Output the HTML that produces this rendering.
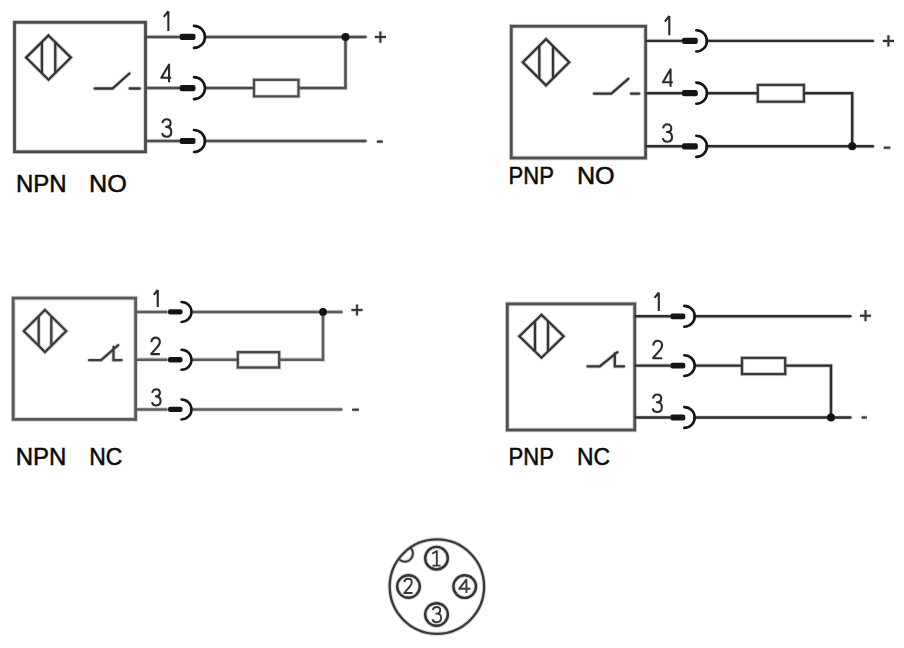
<!DOCTYPE html>
<html><head><meta charset="utf-8"><style>
html,body{margin:0;padding:0;background:#fff;}
body{width:904px;height:648px;overflow:hidden;}
svg{display:block;font-family:"Liberation Sans",sans-serif;}
</style></head><body>
<svg width="904" height="648" viewBox="0 0 904 648">
<rect width="904" height="648" fill="#fff"/>
<g>
<rect x="14.5" y="22.3" width="131.0" height="129.5" fill="none" stroke="#d4d4d4" stroke-width="4.60"/>
<path d="M48.5 35.45 L70.9 57.6 L48.5 79.75 L26.1 57.6 Z" fill="none" stroke="#d4d4d4" stroke-width="4.10"/>
<line x1="41.9" y1="41.98" x2="41.9" y2="73.22" stroke="#d4d4d4" stroke-width="4.10"/>
<line x1="55.25" y1="42.12" x2="55.25" y2="73.08" stroke="#d4d4d4" stroke-width="4.10"/>
<path d="M94.75 88.5 L112.5 88.5 L129.4 73.5 M129.75 88.5 L139.75 88.5" fill="none" stroke="#d4d4d4" stroke-width="4.10" stroke-linecap="round"/>
<line x1="145.5" y1="36.9" x2="180" y2="36.9" stroke="#d4d4d4" stroke-width="4.30"/>
<line x1="145.5" y1="88.1" x2="180" y2="88.1" stroke="#d4d4d4" stroke-width="4.30"/>
<line x1="145.5" y1="141.0" x2="180" y2="141.0" stroke="#d4d4d4" stroke-width="4.30"/>
<line x1="205" y1="36.9" x2="365.40" y2="36.9" stroke="#d4d4d4" stroke-width="4.30" stroke-linecap="round"/>
<line x1="205" y1="141.0" x2="365.40" y2="141.0" stroke="#d4d4d4" stroke-width="4.30" stroke-linecap="round"/>
<line x1="205" y1="88.1" x2="254" y2="88.1" stroke="#d4d4d4" stroke-width="4.30"/>
<rect x="254" y="79.8" width="44.50" height="16.60" fill="none" stroke="#d4d4d4" stroke-width="4.00"/>
<path d="M298.5 88.1 L345.5 88.1 L345.5 36.9" fill="none" stroke="#d4d4d4" stroke-width="4.30"/>
<circle cx="345.5" cy="36.9" r="4.0" fill="none"/>
<path d="M374.79999999999995 37.1 L386.0 37.1 M380.4 31.5 L380.4 42.7" fill="none" stroke="#d4d4d4" stroke-width="3.80"/>
<line x1="376.8" y1="141.6" x2="382.8" y2="141.6" stroke="#d4d4d4" stroke-width="3.90"/>
<rect x="511.25" y="26.25" width="134.35000000000002" height="131.75" fill="none" stroke="#d4d4d4" stroke-width="4.60"/>
<path d="M546 39.15 L569.2 62.25 L546 85.35 L522.8 62.25 Z" fill="none" stroke="#d4d4d4" stroke-width="4.10"/>
<line x1="539.3" y1="45.82" x2="539.3" y2="78.68" stroke="#d4d4d4" stroke-width="4.10"/>
<line x1="553" y1="46.12" x2="553" y2="78.38" stroke="#d4d4d4" stroke-width="4.10"/>
<path d="M594 93.6 L611.3 93.6 L628.3 78.8 M631 93.6 L639.2 93.6" fill="none" stroke="#d4d4d4" stroke-width="4.10" stroke-linecap="round"/>
<line x1="645.6" y1="40.9" x2="682.3" y2="40.9" stroke="#d4d4d4" stroke-width="4.20"/>
<line x1="645.6" y1="93.2" x2="682.3" y2="93.2" stroke="#d4d4d4" stroke-width="4.20"/>
<line x1="645.6" y1="146.3" x2="682.3" y2="146.3" stroke="#d4d4d4" stroke-width="4.20"/>
<line x1="706.9" y1="40.9" x2="872.80" y2="40.9" stroke="#d4d4d4" stroke-width="4.20" stroke-linecap="round"/>
<line x1="706.9" y1="146.3" x2="872.80" y2="146.3" stroke="#d4d4d4" stroke-width="4.20" stroke-linecap="round"/>
<line x1="706.9" y1="93.2" x2="757.8" y2="93.2" stroke="#d4d4d4" stroke-width="4.20"/>
<rect x="757.8" y="84.9" width="46.10" height="16.80" fill="none" stroke="#d4d4d4" stroke-width="4.10"/>
<path d="M803.9 93.2 L852.2 93.2 L852.2 146.3" fill="none" stroke="#d4d4d4" stroke-width="4.20"/>
<circle cx="852.2" cy="146.3" r="4.0" fill="none"/>
<path d="M882.8 40.9 L894.0 40.9 M888.4 35.3 L888.4 46.5" fill="none" stroke="#d4d4d4" stroke-width="3.80"/>
<line x1="883.7" y1="147.7" x2="890.3" y2="147.7" stroke="#d4d4d4" stroke-width="3.90"/>
<rect x="13.2" y="298.1" width="122.39999999999999" height="121.29999999999995" fill="none" stroke="#d4d4d4" stroke-width="4.60"/>
<path d="M45 309.95 L66.2 331 L45 352.05 L23.8 331 Z" fill="none" stroke="#d4d4d4" stroke-width="4.10"/>
<line x1="38.7" y1="316.21" x2="38.7" y2="345.79" stroke="#d4d4d4" stroke-width="4.10"/>
<line x1="51.3" y1="316.21" x2="51.3" y2="345.79" stroke="#d4d4d4" stroke-width="4.10"/>
<path d="M89.1 360.2 H101.1 L118.2 345.2 M113.5 347 V360.2 H121.5" fill="none" stroke="#d4d4d4" stroke-width="4.10" stroke-linecap="round"/>
<line x1="135.6" y1="311.9" x2="167.5" y2="311.9" stroke="#d4d4d4" stroke-width="4.30"/>
<line x1="135.6" y1="359.7" x2="167.5" y2="359.7" stroke="#d4d4d4" stroke-width="4.30"/>
<line x1="135.6" y1="409.4" x2="167.5" y2="409.4" stroke="#d4d4d4" stroke-width="4.30"/>
<line x1="191.5" y1="311.9" x2="341.30" y2="311.9" stroke="#d4d4d4" stroke-width="4.30" stroke-linecap="round"/>
<line x1="191.5" y1="409.4" x2="341.30" y2="409.4" stroke="#d4d4d4" stroke-width="4.30" stroke-linecap="round"/>
<line x1="191.5" y1="359.7" x2="237.8" y2="359.7" stroke="#d4d4d4" stroke-width="4.30"/>
<rect x="237.8" y="352.2" width="41.40" height="15.30" fill="none" stroke="#d4d4d4" stroke-width="4.10"/>
<path d="M279.2 359.7 L323 359.7 L323 311.9" fill="none" stroke="#d4d4d4" stroke-width="4.30"/>
<circle cx="323" cy="311.9" r="3.9" fill="none"/>
<path d="M351.4 310 L362.6 310 M357 304.4 L357 315.6" fill="none" stroke="#d4d4d4" stroke-width="3.80"/>
<line x1="352.1" y1="409.7" x2="358.9" y2="409.7" stroke="#d4d4d4" stroke-width="3.90"/>
<rect x="507.3" y="303.9" width="127.44999999999999" height="126.10000000000002" fill="none" stroke="#d4d4d4" stroke-width="4.60"/>
<path d="M541.5 314.75 L563.6 336.25 L541.5 357.75 L519.4 336.25 Z" fill="none" stroke="#d4d4d4" stroke-width="4.10"/>
<line x1="535" y1="321.07" x2="535" y2="351.43" stroke="#d4d4d4" stroke-width="4.10"/>
<line x1="548" y1="321.07" x2="548" y2="351.43" stroke="#d4d4d4" stroke-width="4.10"/>
<path d="M587.6 366.4 H599.8 L617.4 352.2 M614.8 353.5 V366.4 H624" fill="none" stroke="#d4d4d4" stroke-width="4.10" stroke-linecap="round"/>
<line x1="634.75" y1="316.3" x2="670.3" y2="316.3" stroke="#d4d4d4" stroke-width="4.20"/>
<line x1="634.75" y1="365.6" x2="670.3" y2="365.6" stroke="#d4d4d4" stroke-width="4.20"/>
<line x1="634.75" y1="417.5" x2="670.3" y2="417.5" stroke="#d4d4d4" stroke-width="4.20"/>
<line x1="694.6999999999999" y1="316.3" x2="850.30" y2="316.3" stroke="#d4d4d4" stroke-width="4.20" stroke-linecap="round"/>
<line x1="694.6999999999999" y1="417.5" x2="850.30" y2="417.5" stroke="#d4d4d4" stroke-width="4.20" stroke-linecap="round"/>
<line x1="694.6999999999999" y1="365.6" x2="742" y2="365.6" stroke="#d4d4d4" stroke-width="4.20"/>
<rect x="742" y="357.9" width="43.20" height="16.20" fill="none" stroke="#d4d4d4" stroke-width="4.10"/>
<path d="M785.2 365.6 L831 365.6 L831 417.5" fill="none" stroke="#d4d4d4" stroke-width="4.20"/>
<circle cx="831" cy="417.5" r="4.0" fill="none"/>
<path d="M859.9 315.7 L871.1 315.7 M865.5 310.09999999999997 L865.5 321.3" fill="none" stroke="#d4d4d4" stroke-width="3.80"/>
<line x1="861.5" y1="417.5" x2="866.9000000000001" y2="417.5" stroke="#d4d4d4" stroke-width="3.90"/>
<circle cx="436.9" cy="586.6" r="47.2" fill="none" stroke="#d4d4d4" stroke-width="4.10"/>
<circle cx="436.5" cy="558.2" r="11.3" fill="none" stroke="#d4d4d4" stroke-width="4.20"/>
<circle cx="408.5" cy="586.5" r="11.3" fill="none" stroke="#d4d4d4" stroke-width="4.20"/>
<circle cx="464.7" cy="586.6" r="11.3" fill="none" stroke="#d4d4d4" stroke-width="4.20"/>
<circle cx="436.5" cy="614.5" r="11.3" fill="none" stroke="#d4d4d4" stroke-width="4.20"/>
<path d="M399.2 559.4 A7.0 7.0 0 1 0 410.4 547.6" fill="none" stroke="#d4d4d4" stroke-width="3.80"/>
</g>
<g>
<rect x="14.5" y="22.3" width="131.0" height="129.5" fill="none" stroke="#4a4a4a" stroke-width="2.8"/>
<path d="M48.5 35.45 L70.9 57.6 L48.5 79.75 L26.1 57.6 Z" fill="none" stroke="#333333" stroke-width="2.3"/>
<line x1="41.9" y1="41.98" x2="41.9" y2="73.22" stroke="#333333" stroke-width="2.3"/>
<line x1="55.25" y1="42.12" x2="55.25" y2="73.08" stroke="#333333" stroke-width="2.3"/>
<path d="M94.75 88.5 L112.5 88.5 L129.4 73.5 M129.75 88.5 L139.75 88.5" fill="none" stroke="#333333" stroke-width="2.3" stroke-linecap="round"/>
<line x1="145.5" y1="36.9" x2="180" y2="36.9" stroke="#4c4c4c" stroke-width="2.5"/>
<line x1="145.5" y1="88.1" x2="180" y2="88.1" stroke="#4c4c4c" stroke-width="2.5"/>
<line x1="145.5" y1="141.0" x2="180" y2="141.0" stroke="#4c4c4c" stroke-width="2.5"/>
<line x1="205" y1="36.9" x2="365.40" y2="36.9" stroke="#4c4c4c" stroke-width="2.5" stroke-linecap="round"/>
<line x1="205" y1="141.0" x2="365.40" y2="141.0" stroke="#4c4c4c" stroke-width="2.5" stroke-linecap="round"/>
<line x1="205" y1="88.1" x2="254" y2="88.1" stroke="#4c4c4c" stroke-width="2.5"/>
<rect x="254" y="79.8" width="44.50" height="16.60" fill="none" stroke="#4a4a4a" stroke-width="2.2"/>
<path d="M298.5 88.1 L345.5 88.1 L345.5 36.9" fill="none" stroke="#4c4c4c" stroke-width="2.5"/>
<circle cx="345.5" cy="36.9" r="4.0" fill="#141414"/>
<path d="M374.79999999999995 37.1 L386.0 37.1 M380.4 31.5 L380.4 42.7" fill="none" stroke="#333333" stroke-width="2.0"/>
<line x1="376.8" y1="141.6" x2="382.8" y2="141.6" stroke="#333333" stroke-width="2.1"/>
<rect x="511.25" y="26.25" width="134.35000000000002" height="131.75" fill="none" stroke="#505050" stroke-width="2.8"/>
<path d="M546 39.15 L569.2 62.25 L546 85.35 L522.8 62.25 Z" fill="none" stroke="#333333" stroke-width="2.3"/>
<line x1="539.3" y1="45.82" x2="539.3" y2="78.68" stroke="#333333" stroke-width="2.3"/>
<line x1="553" y1="46.12" x2="553" y2="78.38" stroke="#333333" stroke-width="2.3"/>
<path d="M594 93.6 L611.3 93.6 L628.3 78.8 M631 93.6 L639.2 93.6" fill="none" stroke="#333333" stroke-width="2.3" stroke-linecap="round"/>
<line x1="645.6" y1="40.9" x2="682.3" y2="40.9" stroke="#2c2c2c" stroke-width="2.4"/>
<line x1="645.6" y1="93.2" x2="682.3" y2="93.2" stroke="#2c2c2c" stroke-width="2.4"/>
<line x1="645.6" y1="146.3" x2="682.3" y2="146.3" stroke="#2c2c2c" stroke-width="2.4"/>
<line x1="706.9" y1="40.9" x2="872.80" y2="40.9" stroke="#2c2c2c" stroke-width="2.4" stroke-linecap="round"/>
<line x1="706.9" y1="146.3" x2="872.80" y2="146.3" stroke="#2c2c2c" stroke-width="2.4" stroke-linecap="round"/>
<line x1="706.9" y1="93.2" x2="757.8" y2="93.2" stroke="#2c2c2c" stroke-width="2.4"/>
<rect x="757.8" y="84.9" width="46.10" height="16.80" fill="none" stroke="#3a3a3a" stroke-width="2.3"/>
<path d="M803.9 93.2 L852.2 93.2 L852.2 146.3" fill="none" stroke="#2c2c2c" stroke-width="2.4"/>
<circle cx="852.2" cy="146.3" r="4.0" fill="#141414"/>
<path d="M882.8 40.9 L894.0 40.9 M888.4 35.3 L888.4 46.5" fill="none" stroke="#333333" stroke-width="2.0"/>
<line x1="883.7" y1="147.7" x2="890.3" y2="147.7" stroke="#333333" stroke-width="2.1"/>
<rect x="13.2" y="298.1" width="122.39999999999999" height="121.29999999999995" fill="none" stroke="#5a5a5a" stroke-width="2.8"/>
<path d="M45 309.95 L66.2 331 L45 352.05 L23.8 331 Z" fill="none" stroke="#3c3c3c" stroke-width="2.3"/>
<line x1="38.7" y1="316.21" x2="38.7" y2="345.79" stroke="#3c3c3c" stroke-width="2.3"/>
<line x1="51.3" y1="316.21" x2="51.3" y2="345.79" stroke="#3c3c3c" stroke-width="2.3"/>
<path d="M89.1 360.2 H101.1 L118.2 345.2 M113.5 347 V360.2 H121.5" fill="none" stroke="#3c3c3c" stroke-width="2.3" stroke-linecap="round"/>
<line x1="135.6" y1="311.9" x2="167.5" y2="311.9" stroke="#5c5c5c" stroke-width="2.5"/>
<line x1="135.6" y1="359.7" x2="167.5" y2="359.7" stroke="#5c5c5c" stroke-width="2.5"/>
<line x1="135.6" y1="409.4" x2="167.5" y2="409.4" stroke="#5c5c5c" stroke-width="2.5"/>
<line x1="191.5" y1="311.9" x2="341.30" y2="311.9" stroke="#5c5c5c" stroke-width="2.5" stroke-linecap="round"/>
<line x1="191.5" y1="409.4" x2="341.30" y2="409.4" stroke="#5c5c5c" stroke-width="2.5" stroke-linecap="round"/>
<line x1="191.5" y1="359.7" x2="237.8" y2="359.7" stroke="#5c5c5c" stroke-width="2.5"/>
<rect x="237.8" y="352.2" width="41.40" height="15.30" fill="none" stroke="#484848" stroke-width="2.3"/>
<path d="M279.2 359.7 L323 359.7 L323 311.9" fill="none" stroke="#5c5c5c" stroke-width="2.5"/>
<circle cx="323" cy="311.9" r="3.9" fill="#141414"/>
<path d="M351.4 310 L362.6 310 M357 304.4 L357 315.6" fill="none" stroke="#3c3c3c" stroke-width="2.0"/>
<line x1="352.1" y1="409.7" x2="358.9" y2="409.7" stroke="#3c3c3c" stroke-width="2.1"/>
<rect x="507.3" y="303.9" width="127.44999999999999" height="126.10000000000002" fill="none" stroke="#505050" stroke-width="2.8"/>
<path d="M541.5 314.75 L563.6 336.25 L541.5 357.75 L519.4 336.25 Z" fill="none" stroke="#333333" stroke-width="2.3"/>
<line x1="535" y1="321.07" x2="535" y2="351.43" stroke="#333333" stroke-width="2.3"/>
<line x1="548" y1="321.07" x2="548" y2="351.43" stroke="#333333" stroke-width="2.3"/>
<path d="M587.6 366.4 H599.8 L617.4 352.2 M614.8 353.5 V366.4 H624" fill="none" stroke="#333333" stroke-width="2.3" stroke-linecap="round"/>
<line x1="634.75" y1="316.3" x2="670.3" y2="316.3" stroke="#2c2c2c" stroke-width="2.4"/>
<line x1="634.75" y1="365.6" x2="670.3" y2="365.6" stroke="#2c2c2c" stroke-width="2.4"/>
<line x1="634.75" y1="417.5" x2="670.3" y2="417.5" stroke="#2c2c2c" stroke-width="2.4"/>
<line x1="694.6999999999999" y1="316.3" x2="850.30" y2="316.3" stroke="#2c2c2c" stroke-width="2.4" stroke-linecap="round"/>
<line x1="694.6999999999999" y1="417.5" x2="850.30" y2="417.5" stroke="#2c2c2c" stroke-width="2.4" stroke-linecap="round"/>
<line x1="694.6999999999999" y1="365.6" x2="742" y2="365.6" stroke="#2c2c2c" stroke-width="2.4"/>
<rect x="742" y="357.9" width="43.20" height="16.20" fill="none" stroke="#3a3a3a" stroke-width="2.3"/>
<path d="M785.2 365.6 L831 365.6 L831 417.5" fill="none" stroke="#2c2c2c" stroke-width="2.4"/>
<circle cx="831" cy="417.5" r="4.0" fill="#141414"/>
<path d="M859.9 315.7 L871.1 315.7 M865.5 310.09999999999997 L865.5 321.3" fill="none" stroke="#333333" stroke-width="2.0"/>
<line x1="861.5" y1="417.5" x2="866.9000000000001" y2="417.5" stroke="#333333" stroke-width="2.1"/>
<circle cx="436.9" cy="586.6" r="47.2" fill="none" stroke="#3a3a3a" stroke-width="2.3"/>
<circle cx="436.5" cy="558.2" r="11.3" fill="none" stroke="#333333" stroke-width="2.4"/>
<circle cx="408.5" cy="586.5" r="11.3" fill="none" stroke="#333333" stroke-width="2.4"/>
<circle cx="464.7" cy="586.6" r="11.3" fill="none" stroke="#333333" stroke-width="2.4"/>
<circle cx="436.5" cy="614.5" r="11.3" fill="none" stroke="#333333" stroke-width="2.4"/>
<path d="M399.2 559.4 A7.0 7.0 0 1 0 410.4 547.6" fill="none" stroke="#3a3a3a" stroke-width="2.0"/>
</g>
<g>
<rect x="179.70" y="33.80" width="15.8" height="6.2" rx="2" fill="#141414"/>
<path d="M194 25.90 A11 11 0 0 1 194 47.90" fill="none" stroke="#141414" stroke-width="2.6" stroke-linecap="round"/>
<rect x="179.70" y="85.00" width="15.8" height="6.2" rx="2" fill="#141414"/>
<path d="M194 77.10 A11 11 0 0 1 194 99.10" fill="none" stroke="#141414" stroke-width="2.6" stroke-linecap="round"/>
<rect x="179.70" y="137.90" width="15.8" height="6.2" rx="2" fill="#141414"/>
<path d="M194 130.00 A11 11 0 0 1 194 152.00" fill="none" stroke="#141414" stroke-width="2.6" stroke-linecap="round"/>
<path transform="translate(162.8 11.2) scale(1.03)" d="M5.4 0 V19.2 M5.4 0 L1 5.6" fill="none" stroke="#2a2a2a" stroke-width="2.039" stroke-linejoin="round"/>
<path transform="translate(161.3 64.6) scale(0.98)" d="M7.9 18 V0 L0 13.4 H10.2" fill="none" stroke="#2a2a2a" stroke-width="2.143" stroke-linejoin="round"/>
<path transform="translate(162.2 119.2) scale(1.0)" d="M0.2 4 C0.6 1.4 2.4 0 4.5 0 C6.9 0 8.4 1.6 8.4 3.9 C8.4 6.1 6.8 7.7 4 7.7 C7.1 7.7 9.1 9.6 9.1 12.8 C9.1 15.8 7.2 17.5 4.5 17.5 C2.1 17.5 0.3 16 0 13.8" fill="none" stroke="#2a2a2a" stroke-width="2.100" stroke-linejoin="round"/>
<text transform="translate(16.0 191.7) scale(1.0 1)" font-size="24" fill="#0a0a0a" stroke="#0a0a0a" stroke-width="0.5">NPN</text>
<text transform="translate(89.1 191.7) scale(1.05 1)" font-size="24" fill="#0a0a0a" stroke="#0a0a0a" stroke-width="0.5">NO</text>
<rect x="682.00" y="37.80" width="15.8" height="6.2" rx="2" fill="#141414"/>
<path d="M696.3 30.30 A10.6 10.6 0 0 1 696.3 51.50" fill="none" stroke="#141414" stroke-width="2.6" stroke-linecap="round"/>
<rect x="682.00" y="90.10" width="15.8" height="6.2" rx="2" fill="#141414"/>
<path d="M696.3 82.60 A10.6 10.6 0 0 1 696.3 103.80" fill="none" stroke="#141414" stroke-width="2.6" stroke-linecap="round"/>
<rect x="682.00" y="143.20" width="15.8" height="6.2" rx="2" fill="#141414"/>
<path d="M696.3 135.70 A10.6 10.6 0 0 1 696.3 156.90" fill="none" stroke="#141414" stroke-width="2.6" stroke-linecap="round"/>
<path transform="translate(663.9 16) scale(1.0)" d="M5.4 0 V19.2 M5.4 0 L1 5.6" fill="none" stroke="#2a2a2a" stroke-width="2.100" stroke-linejoin="round"/>
<path transform="translate(662.9 69.3) scale(0.97)" d="M7.9 18 V0 L0 13.4 H10.2" fill="none" stroke="#2a2a2a" stroke-width="2.165" stroke-linejoin="round"/>
<path transform="translate(662.9 124.3) scale(1.0)" d="M0.2 4 C0.6 1.4 2.4 0 4.5 0 C6.9 0 8.4 1.6 8.4 3.9 C8.4 6.1 6.8 7.7 4 7.7 C7.1 7.7 9.1 9.6 9.1 12.8 C9.1 15.8 7.2 17.5 4.5 17.5 C2.1 17.5 0.3 16 0 13.8" fill="none" stroke="#2a2a2a" stroke-width="2.100" stroke-linejoin="round"/>
<text transform="translate(508.6 183.7) scale(0.92 1)" font-size="24" fill="#0a0a0a" stroke="#0a0a0a" stroke-width="0.5">PNP</text>
<text transform="translate(576.9 183.7) scale(1.05 1)" font-size="24" fill="#0a0a0a" stroke="#0a0a0a" stroke-width="0.5">NO</text>
<rect x="168.00" y="309.20" width="14.5" height="5.4" rx="2" fill="#141414"/>
<path d="M181.5 301.90 A10 10 0 0 1 181.5 321.90" fill="none" stroke="#141414" stroke-width="2.5" stroke-linecap="round"/>
<rect x="168.00" y="357.00" width="14.5" height="5.4" rx="2" fill="#141414"/>
<path d="M181.5 349.70 A10 10 0 0 1 181.5 369.70" fill="none" stroke="#141414" stroke-width="2.5" stroke-linecap="round"/>
<rect x="168.00" y="406.70" width="14.5" height="5.4" rx="2" fill="#141414"/>
<path d="M181.5 399.40 A10 10 0 0 1 181.5 419.40" fill="none" stroke="#141414" stroke-width="2.5" stroke-linecap="round"/>
<path transform="translate(153 290) scale(0.88)" d="M5.4 0 V19.2 M5.4 0 L1 5.6" fill="none" stroke="#2a2a2a" stroke-width="2.386" stroke-linejoin="round"/>
<path transform="translate(150.9 337.6) scale(0.95)" d="M0.5 4.8 C0.8 1.8 2.7 0 5 0 C7.6 0 9.4 1.9 9.4 4.5 C9.4 6.8 8 8.6 6 10.8 L0.5 16.9 V17.4 H9.4" fill="none" stroke="#2a2a2a" stroke-width="2.211" stroke-linejoin="round"/>
<path transform="translate(152.1 389.2) scale(0.93)" d="M0.2 4 C0.6 1.4 2.4 0 4.5 0 C6.9 0 8.4 1.6 8.4 3.9 C8.4 6.1 6.8 7.7 4 7.7 C7.1 7.7 9.1 9.6 9.1 12.8 C9.1 15.8 7.2 17.5 4.5 17.5 C2.1 17.5 0.3 16 0 13.8" fill="none" stroke="#2a2a2a" stroke-width="2.258" stroke-linejoin="round"/>
<text transform="translate(15.7 464.5) scale(1.0 1)" font-size="24" fill="#0a0a0a" stroke="#0a0a0a" stroke-width="0.5">NPN</text>
<text transform="translate(89.2 464.5) scale(0.955 1)" font-size="24" fill="#0a0a0a" stroke="#0a0a0a" stroke-width="0.5">NC</text>
<rect x="670.30" y="313.40" width="15" height="5.8" rx="2" fill="#141414"/>
<path d="M684.3 305.90 A10.4 10.4 0 0 1 684.3 326.70" fill="none" stroke="#141414" stroke-width="2.6" stroke-linecap="round"/>
<rect x="670.30" y="362.70" width="15" height="5.8" rx="2" fill="#141414"/>
<path d="M684.3 355.20 A10.4 10.4 0 0 1 684.3 376.00" fill="none" stroke="#141414" stroke-width="2.6" stroke-linecap="round"/>
<rect x="670.30" y="414.60" width="15" height="5.8" rx="2" fill="#141414"/>
<path d="M684.3 407.10 A10.4 10.4 0 0 1 684.3 427.90" fill="none" stroke="#141414" stroke-width="2.6" stroke-linecap="round"/>
<path transform="translate(653.6 292.5) scale(0.96)" d="M5.4 0 V19.2 M5.4 0 L1 5.6" fill="none" stroke="#2a2a2a" stroke-width="2.188" stroke-linejoin="round"/>
<path transform="translate(652.7 340.8) scale(1.0)" d="M0.5 4.8 C0.8 1.8 2.7 0 5 0 C7.6 0 9.4 1.9 9.4 4.5 C9.4 6.8 8 8.6 6 10.8 L0.5 16.9 V17.4 H9.4" fill="none" stroke="#2a2a2a" stroke-width="2.100" stroke-linejoin="round"/>
<path transform="translate(652.8 394.5) scale(1.0)" d="M0.2 4 C0.6 1.4 2.4 0 4.5 0 C6.9 0 8.4 1.6 8.4 3.9 C8.4 6.1 6.8 7.7 4 7.7 C7.1 7.7 9.1 9.6 9.1 12.8 C9.1 15.8 7.2 17.5 4.5 17.5 C2.1 17.5 0.3 16 0 13.8" fill="none" stroke="#2a2a2a" stroke-width="2.100" stroke-linejoin="round"/>
<text transform="translate(508.6 464.5) scale(0.92 1)" font-size="24" fill="#0a0a0a" stroke="#0a0a0a" stroke-width="0.5">PNP</text>
<text transform="translate(577.0 464.5) scale(0.955 1)" font-size="24" fill="#0a0a0a" stroke="#0a0a0a" stroke-width="0.5">NC</text>
<path d="M432.3 553.6 L436.8 551 V565.5 M432.4 565.6 H440.6" fill="none" stroke="#383838" stroke-width="1.9" stroke-linejoin="round"/>
<path d="M404.3 582 C404.6 579.8 406.2 578.8 408.2 578.8 C410.5 578.8 411.8 580.2 411.8 582.2 C411.8 584 410.8 585.5 409 587.5 L404.2 593 H412.5" fill="none" stroke="#383838" stroke-width="1.9" stroke-linejoin="round"/>
<path d="M466.4 593 V579.6 L459.3 588.7 H470.4" fill="none" stroke="#383838" stroke-width="1.9" stroke-linejoin="round"/>
<path d="M432.8 610 C433.2 608 434.6 607 436.6 607 C438.8 607 440.2 608.3 440.2 610.2 C440.2 612 438.8 613.6 436.3 613.6 C439.1 613.6 441.2 615 441.2 617.8 C441.2 620.5 439.2 622.2 436.5 622.2 C434.4 622.2 432.8 621.2 432.4 619.3" fill="none" stroke="#383838" stroke-width="1.9" stroke-linejoin="round"/>
</g>
</svg>
</body></html>
